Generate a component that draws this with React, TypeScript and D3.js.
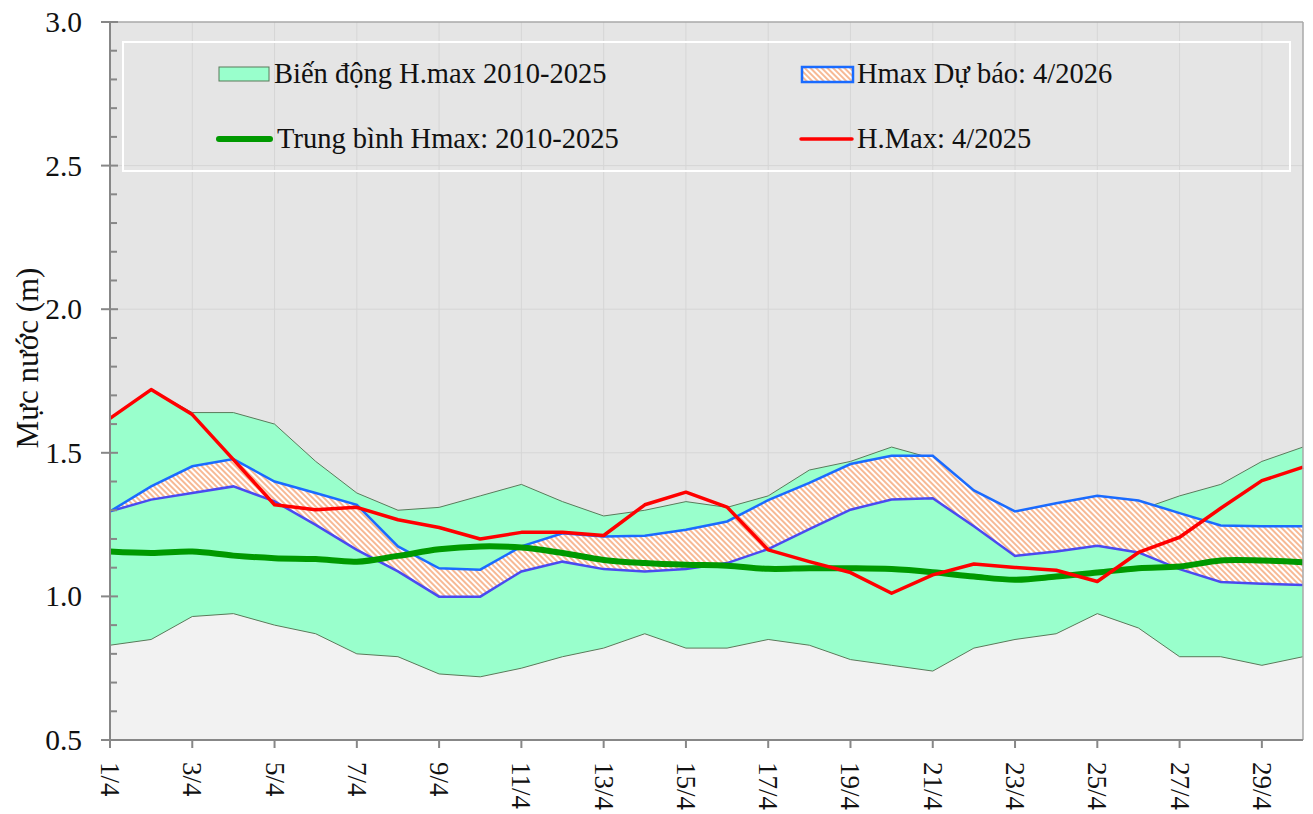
import React from 'react';
import * as d3 from 'd3';

const dayLabels = ['1/4','2/4','3/4','4/4','5/4','6/4','7/4','8/4','9/4','10/4','11/4','12/4','13/4','14/4','15/4','16/4','17/4','18/4','19/4','20/4','21/4','22/4','23/4','24/4','25/4','26/4','27/4','28/4','29/4','30/4'];
const tickDays = ['1/4','3/4','5/4','7/4','9/4','11/4','13/4','15/4','17/4','19/4','21/4','23/4','25/4','27/4','29/4'];
const yMajorTicks = [0.5, 1.0, 1.5, 2.0, 2.5, 3.0];
const yMinorTicks = [0.6,0.7,0.8,0.9,1.1,1.2,1.3,1.4,1.6,1.7,1.8,1.9,2.1,2.2,2.3,2.4,2.6,2.7,2.8,2.9];

const rangeMax = [1.62,1.72,1.64,1.64,1.60,1.47,1.36,1.30,1.31,1.35,1.39,1.33,1.28,1.30,1.33,1.31,1.35,1.44,1.47,1.52,1.48,1.35,1.27,1.29,1.31,1.30,1.35,1.39,1.47,1.52];
const rangeMin = [0.83,0.85,0.93,0.94,0.90,0.87,0.80,0.79,0.73,0.72,0.75,0.79,0.82,0.87,0.82,0.82,0.85,0.83,0.78,0.76,0.74,0.82,0.85,0.87,0.94,0.89,0.79,0.79,0.76,0.79];
const meanHmax = [1.156,1.151,1.156,1.142,1.133,1.130,1.121,1.141,1.164,1.174,1.170,1.151,1.127,1.116,1.110,1.107,1.096,1.098,1.098,1.095,1.084,1.069,1.058,1.069,1.083,1.098,1.104,1.125,1.125,1.119];
const hmax2025 = [1.62,1.72,1.633,1.476,1.319,1.302,1.310,1.267,1.240,1.200,1.223,1.223,1.212,1.319,1.363,1.311,1.162,1.121,1.083,1.011,1.075,1.113,1.101,1.091,1.052,1.153,1.206,1.307,1.403,1.450];
const forecastUpper = [1.296,1.383,1.453,1.478,1.400,1.360,1.319,1.174,1.098,1.093,1.174,1.220,1.209,1.211,1.232,1.261,1.335,1.395,1.461,1.490,1.490,1.369,1.296,1.324,1.350,1.334,1.290,1.247,1.244,1.244];
const forecastLower = [1.296,1.337,1.360,1.383,1.331,1.249,1.162,1.087,0.999,0.999,1.087,1.121,1.095,1.087,1.095,1.116,1.165,1.234,1.302,1.337,1.342,1.244,1.141,1.156,1.176,1.153,1.095,1.050,1.044,1.040];

const legendLabels = ['Biến động H.max 2010-2025', 'Trung bình Hmax: 2010-2025', 'Hmax Dự báo: 4/2026', 'H.Max: 4/2025'];
const yTitle = 'Mực nước (m)';

const serif = "'Liberation Serif'";

export default function App() {
  const W = 1313, H = 814;
  const L = 110, R = 1303, T = 22, B = 740;
  const x = d3.scalePoint<string>().domain(dayLabels).range([L, R]);
  const y = d3.scaleLinear().domain([0.5, 3.0]).range([B, T]);
  const idx = dayLabels.map((_, i) => i);
  const xi = (i: number) => x(dayLabels[i]) as number;

  const lowArea = d3.area<number>().x(xi).y0(y(0.5)).y1(i => y(rangeMin[i]))(idx) || '';
  const bandArea = d3.area<number>().x(xi).y0(i => y(rangeMin[i])).y1(i => y(rangeMax[i]))(idx) || '';
  const maxLine = d3.line<number>().x(xi).y(i => y(rangeMax[i]))(idx) || '';
  const minLine = d3.line<number>().x(xi).y(i => y(rangeMin[i]))(idx) || '';
  const fcArea = d3.area<number>().x(xi).y0(i => y(forecastLower[i])).y1(i => y(forecastUpper[i]))(idx) || '';
  const fcUp = d3.line<number>().x(xi).y(i => y(forecastUpper[i]))(idx) || '';
  const fcLo = d3.line<number>().x(xi).y(i => y(forecastLower[i]))(idx) || '';
  const meanLine = d3.line<number>().x(xi).y(i => y(meanHmax[i])).curve(d3.curveCatmullRom.alpha(0.5))(idx) || '';
  const redLine = d3.line<number>().x(xi).y(i => y(hmax2025[i]))(idx) || '';

  const axisColor = '#878787';
  const gridColor = '#d6d6d6';
  const txt = (size: number) => ({ fontFamily: serif, fontSize: size + 'px', fill: '#111' });

  return (
    <svg width={W} height={H} style={{ position: 'absolute', left: 0, top: 0, display: 'block', background: '#fff' }}>
      <defs>
        <pattern id="hatch" patternUnits="userSpaceOnUse" width="4" height="4" patternTransform="rotate(-45)">
          <rect x="0" y="0" width="4" height="4" fill="#ffffff" />
          <rect x="0" y="0" width="2" height="4" fill="#f7b995" />
        </pattern>
      </defs>
      <rect x={L} y={T} width={R - L} height={B - T} fill="#e5e5e5" />
      {tickDays.slice(1).map(d => (
        <line key={'gx' + d} x1={x(d)} x2={x(d)} y1={T} y2={B} stroke={gridColor} strokeWidth={1} />
      ))}
      {yMajorTicks.slice(1, -1).map(v => (
        <line key={'gy' + v} x1={L} x2={R} y1={y(v)} y2={y(v)} stroke={gridColor} strokeWidth={1} />
      ))}
      <path d={lowArea} fill="#f2f2f2" />
      <path d={bandArea} fill="#99ffcc" />
      <path d={maxLine} fill="none" stroke="#5a7a5a" strokeWidth={1} />
      <path d={minLine} fill="none" stroke="#5a7a5a" strokeWidth={1} />
      <path d={fcArea} fill="url(#hatch)" />
      <path d={fcLo} fill="none" stroke="#4a4af0" strokeWidth={2.5} />
      <path d={fcUp} fill="none" stroke="#1a6bff" strokeWidth={2.5} />
      <path d={meanLine} fill="none" stroke="#009900" strokeWidth={6} />
      <path d={redLine} fill="none" stroke="#ff0000" strokeWidth={3.5} strokeLinejoin="round" />

      <line x1={L} x2={R} y1={T} y2={T} stroke="#a8a8a8" strokeWidth={1.5} />
      <line x1={R} x2={R} y1={T} y2={B} stroke="#a8a8a8" strokeWidth={1.5} />

      <rect x={123} y={42} width={1167} height={129} fill="none" stroke="#ffffff" strokeWidth={2} />
      <rect x={219} y={67} width={50} height={14} fill="#99ffcc" stroke="#5a7a5a" strokeWidth={1} />
      <text x={274} y={83} style={txt(28.5)}>{legendLabels[0]}</text>
      <line x1={219} x2={270} y1={139} y2={139} stroke="#009900" strokeWidth={6} strokeLinecap="round" />
      <text x={277} y={148} style={txt(28.5)}>{legendLabels[1]}</text>
      <rect x={802} y={67} width={51} height={15} fill="url(#hatch)" stroke="#1a6bff" strokeWidth={2.5} />
      <text x={857} y={83} style={txt(28.5)}>{legendLabels[2]}</text>
      <line x1={801} x2={852} y1={139} y2={139} stroke="#ff0000" strokeWidth={3.5} strokeLinecap="round" />
      <text x={857} y={148} style={txt(28.5)}>{legendLabels[3]}</text>

      <line x1={L} x2={L} y1={T} y2={B} stroke={axisColor} strokeWidth={2} />
      <line x1={L - 7} x2={R} y1={B} y2={B} stroke={axisColor} strokeWidth={2} />
      {yMajorTicks.map(v => (
        <g key={'ym' + v}>
          <line x1={L - 9} x2={L + 8} y1={y(v)} y2={y(v)} stroke={axisColor} strokeWidth={2} />
          <text x={L - 28} y={y(v)} textAnchor="end" dominantBaseline="central" style={txt(29.5)}>{v.toFixed(1)}</text>
        </g>
      ))}
      {yMinorTicks.map(v => (
        <line key={'yn' + v} x1={L} x2={L + 7} y1={y(v)} y2={y(v)} stroke={axisColor} strokeWidth={2} />
      ))}
      {tickDays.map(d => (
        <g key={'xt' + d}>
          <line x1={x(d)} x2={x(d)} y1={B} y2={B + 8} stroke={axisColor} strokeWidth={2} />
          <text transform={`translate(${x(d)},${B + 22}) rotate(90)`} textAnchor="start" dominantBaseline="central" style={txt(27)}>{d}</text>
        </g>
      ))}
      <text transform={`translate(27,358) rotate(-90)`} textAnchor="middle" dominantBaseline="central" style={txt(31)}>{yTitle}</text>
    </svg>
  );
}
